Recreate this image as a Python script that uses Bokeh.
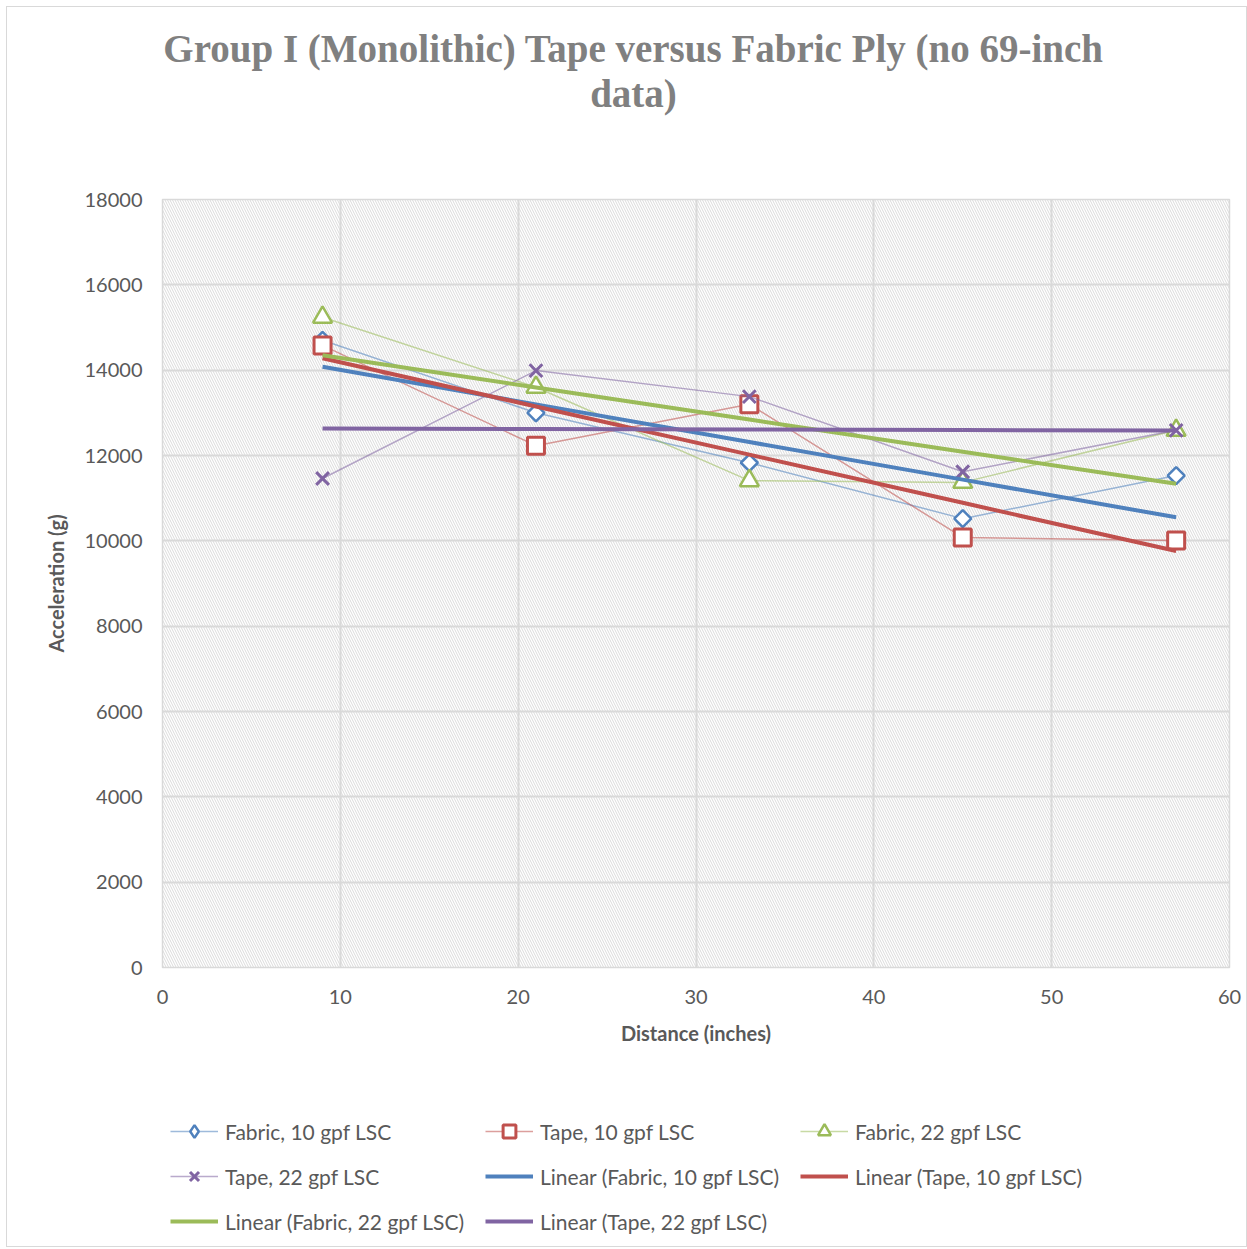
import numpy as np
from bokeh.plotting import figure
from bokeh.layouts import column
from bokeh.models import Label, Legend, LegendItem, BoxAnnotation, FixedTicker, Range1d
from bokeh.embed import file_html
from bokeh.resources import INLINE

# ---- data ----
distance = [9, 21, 33, 45, 57]
fabric_10 = [14700, 13000, 11830, 10520, 11530]
tape_10 = [14580, 12230, 13200, 10080, 10010]
fabric_22 = [15240, 13600, 11410, 11370, 12590]
tape_22 = [11460, 13990, 13380, 11620, 12590]
x_ticks = [0, 10, 20, 30, 40, 50, 60]
y_ticks = [0, 2000, 4000, 6000, 8000, 10000, 12000, 14000, 16000, 18000]
series_names = ["Fabric, 10 gpf LSC", "Tape, 10 gpf LSC", "Fabric, 22 gpf LSC", "Tape, 22 gpf LSC"]
title_lines = ["Group I (Monolithic) Tape versus Fabric Ply (no 69-inch", "data)"]

colors = ["#4f81bd", "#c0504d", "#9bbb59", "#8064a2"]
TXT = "#595959"
FONT = "Lato"
W = 1239
FX0, FX1 = 162, 1229   # frame span in page pixels (frames of the column are aligned)


def blank_fig(h):
    f = figure(width=W, height=h, output_backend="svg", toolbar_location=None,
               x_range=Range1d(FX0, FX1), y_range=Range1d(0, h),
               x_axis_type=None, y_axis_type=None, min_border=0)
    f.grid.visible = False
    f.outline_line_color = None
    return f


# ---- title figure ----
TH = 176
pt = blank_fig(TH)
for i, line in enumerate(title_lines):
    pt.add_layout(Label(x=633, y=TH - 41 - 45 * i, text=line,
                        text_align="center", text_baseline="middle", text_font="Liberation Serif",
                        text_font_style="bold", text_font_size="39px", text_color="#808080"))

# ---- main figure ----
MH = 874
p = figure(width=W, height=MH, output_backend="svg", toolbar_location=None,
           x_range=Range1d(0, 60), y_range=Range1d(0, 18000),
           min_border_left=155, min_border_right=17, min_border_top=16, min_border_bottom=90)
p.background_fill_color = "white"
p.outline_line_color = "#d9d9d9"
p.outline_line_width = 1.5

hatch = BoxAnnotation(fill_alpha=0, line_color=None, hatch_pattern="\\", hatch_color="#dadada",
                      hatch_scale=5, hatch_weight=1, level="image")
p.add_layout(hatch)

p.grid.grid_line_color = "#d9d9d9"
p.grid.grid_line_width = 2
p.xaxis.ticker = FixedTicker(ticks=x_ticks)
p.yaxis.ticker = FixedTicker(ticks=y_ticks)
for ax in (p.xaxis, p.yaxis):
    ax.axis_line_color = None
    ax.major_tick_line_color = None
    ax.minor_tick_line_color = None
    ax.major_tick_out = 0
    ax.major_tick_in = 0
    ax.major_label_text_font = FONT
    ax.major_label_text_font_size = "20px"
    ax.major_label_text_color = TXT
    ax.axis_label_text_font = FONT
    ax.axis_label_text_font_size = "20px"
    ax.axis_label_text_font_style = "bold"
    ax.axis_label_text_color = TXT
p.xaxis.axis_label = "Distance (inches)"
p.yaxis.axis_label = "Acceleration (g)"
p.xaxis.major_label_standoff = 22
p.yaxis.major_label_standoff = 20
p.xaxis.axis_label_standoff = 14
p.yaxis.axis_label_standoff = 14

data = [fabric_10, tape_10, fabric_22, tape_22]
markers = [("square", 12, np.pi / 4), ("square", 17, 0), ("triangle", 19, 0), ("x", 18, 0)]
legend_markers = ["diamond", "square", "triangle", "x"]
mwidth = [2.5, 3, 2.5, 3]

for vals, col, (mk, sz, ang), lw in zip(data, colors, markers, mwidth):
    p.line(distance, vals, line_color=col, line_alpha=0.55, line_width=1.5)
    p.scatter(distance, vals, marker=mk, size=sz, angle=ang, line_color=col,
              line_width=lw, fill_color="white")

xs = np.array(distance, dtype=float)
fits = []
for vals, col in zip(data, colors):
    slope, intercept = np.polyfit(xs, np.array(vals, dtype=float), 1)
    fits.append(slope * xs + intercept)
    p.line(xs, fits[-1], line_color=col, line_width=4)

# ---- legend figure (its renderers hold the same data, outside its visible range) ----
LH = 1246 - 7 - TH - MH
pl = blank_fig(LH)
data_items, trend_items = [], []
for vals, col, mk, lw, name in zip(data, colors, legend_markers, mwidth, series_names):
    ln = pl.line(distance, vals, line_color=col, line_alpha=0.55, line_width=1.5)
    sc = pl.scatter(distance, vals, marker=mk, size=16, line_color=col, line_width=lw,
                    fill_color="white")
    data_items.append(LegendItem(label=name, renderers=[ln, sc]))
for fit, col, name in zip(fits, colors, series_names):
    tl = pl.line(xs, fit, line_color=col, line_width=4)
    trend_items.append(LegendItem(label="Linear (" + name + ")", renderers=[tl]))

legend = Legend(items=data_items + trend_items, orientation="horizontal", ncols=3,
                location=(8, LH - 180),
                label_text_font=FONT, label_text_font_size="21px", label_text_color=TXT,
                glyph_width=48, glyph_height=32, label_height=32, label_width=247,
                label_standoff=7, spacing=13, padding=0, margin=0, border_line_color=None,
                background_fill_alpha=0)
pl.add_layout(legend)

layout = column(pt, p, pl, margin=(7, 0, 0, 7), spacing=0,
                styles={"outline": "1px solid #d9d9d9"})

open("out.html", "w").write(file_html(layout, INLINE))
